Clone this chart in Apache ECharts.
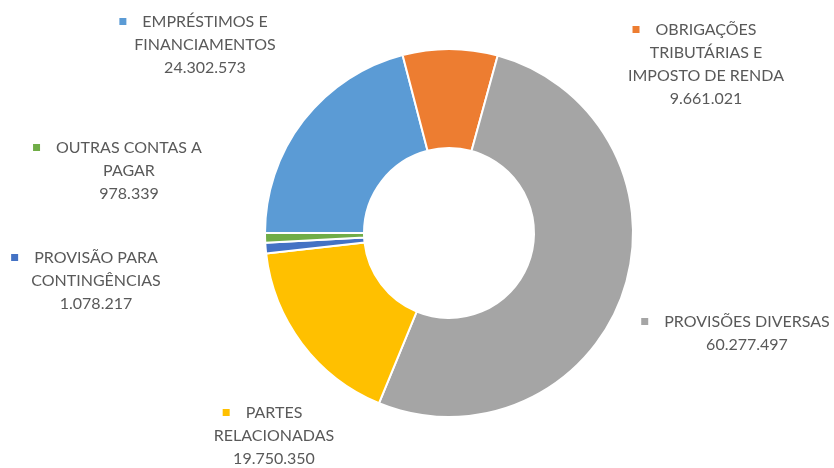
<!DOCTYPE html>
<html>
<head>
<meta charset="utf-8">
<script src="https://cdn.jsdelivr.net/npm/echarts@6/dist/echarts.min.js"></script>
<style>html,body{margin:0;padding:0;background:#fff}#c{width:834px;height:468px}</style>
</head>
<body>
<div id="c"></div>
<script>
var categories = ['EMPRÉSTIMOS E FINANCIAMENTOS','OBRIGAÇÕES TRIBUTÁRIAS E IMPOSTO DE RENDA','PROVISÕES DIVERSAS','PARTES RELACIONADAS','PROVISÃO PARA CONTINGÊNCIAS','OUTRAS CONTAS A PAGAR'];
var labelLines = [
  ['EMPRÉSTIMOS E','FINANCIAMENTOS'],
  ['OBRIGAÇÕES','TRIBUTÁRIAS E','IMPOSTO DE RENDA'],
  ['PROVISÕES DIVERSAS'],
  ['PARTES','RELACIONADAS'],
  ['PROVISÃO PARA','CONTINGÊNCIAS'],
  ['OUTRAS CONTAS A','PAGAR']
];
var values = [24302573, 9661021, 60277497, 19750350, 1078217, 978339];
var colors = ['#5B9BD5','#ED7D31','#A5A5A5','#FFC000','#4472C4','#70AD47'];
// label anchor (center x, top y of text block)
var labelPos = [[205,10],[706,18],[747,310],[274,401],[96,246],[129,136]];

function fmt(v){ return String(v).replace(/\B(?=(\d{3})+(?!\d))/g,'.'); }

var rich = { t:{fontSize:16, lineHeight:23, color:'#595959', fontFamily:'Lato'}, g:{width:16}, p:{width:23} };
colors.forEach(function(c,i){ rich['m'+i] = {width:7,height:7,backgroundColor:c}; });

var chart = echarts.init(document.getElementById('c'));
chart.setOption({
  animation:false,
  color: colors,
  series:[{
    type:'pie',
    center:[449,233],
    radius:[85,184],
    startAngle:180,
    clockwise:true,
    itemStyle:{borderColor:'#fff',borderWidth:2},
    labelLine:{show:false},
    label:{
      show:true,
      position:'outside',
      overflow:'none',
      fontFamily:'Lato',
      fontSize:16,
      lineHeight:23,
      color:'#595959',
      align:'center',
      rich: rich,
      formatter:function(p){
        var ls = labelLines[p.dataIndex];
        var out = ['{m'+p.dataIndex+'|}{g|}{t|'+ls[0]+'}{p|}'];
        for (var k=1;k<ls.length;k++) out.push('{t|'+ls[k]+'}');
        out.push('{t|'+fmt(p.value)+'}');
        return out.join('\n');
      }
    },
    labelLayout:function(p){
      var lp = labelPos[p.dataIndex];
      return {x:lp[0], y:lp[1], align:'center', verticalAlign:'top'};
    },
    data: categories.map(function(n,i){ return {name:n, value:values[i]}; })
  }]
});
</script>
</body>
</html>
